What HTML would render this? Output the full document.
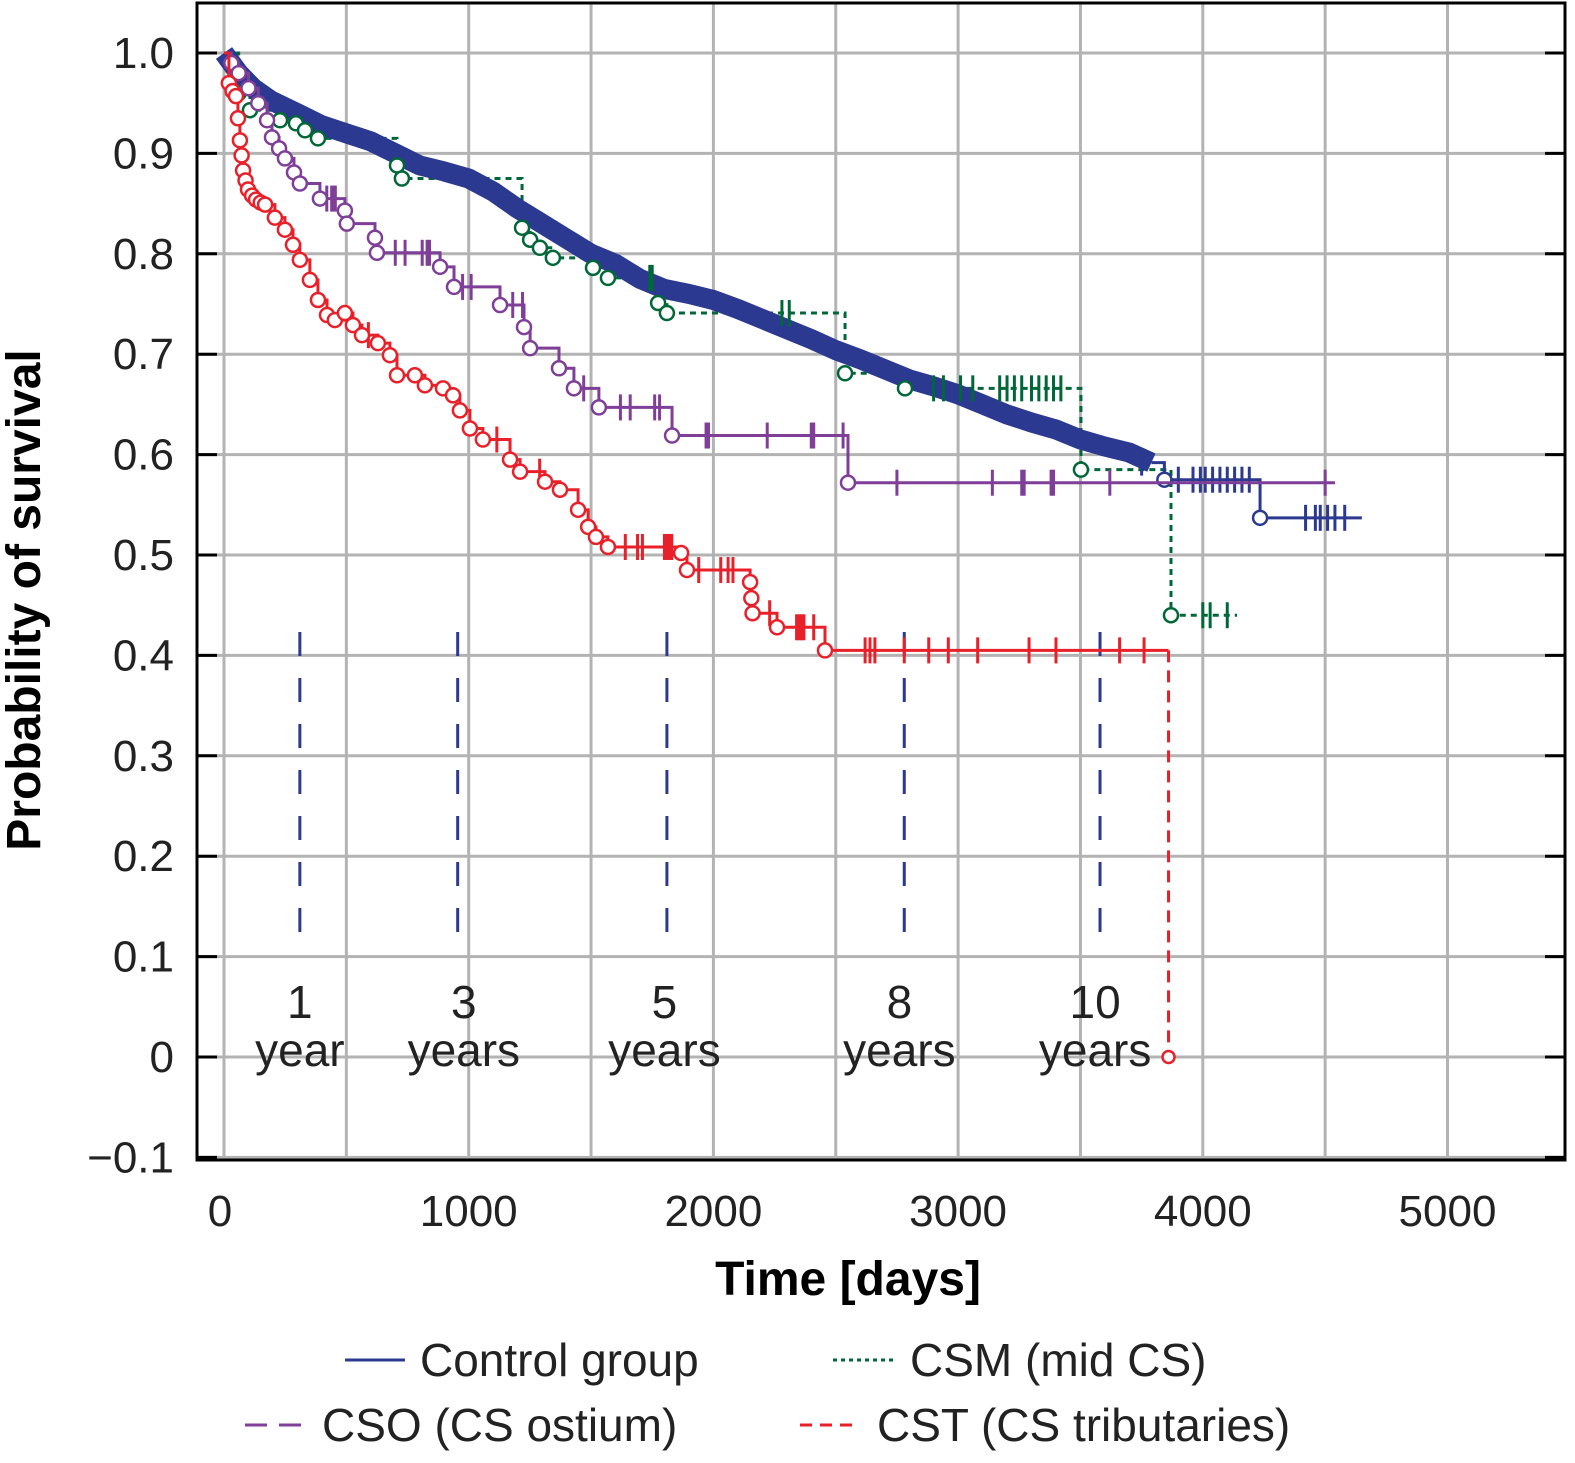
<!DOCTYPE html>
<html><head><meta charset="utf-8"><style>
body{margin:0;background:#fff;}
svg{display:block;font-family:"Liberation Sans",sans-serif;}
</style></head><body>
<svg id="chart" width="1575" height="1463" viewBox="0 0 1575 1463" xmlns="http://www.w3.org/2000/svg">
<g id="grid"></g>
<g id="annot"></g>
<g id="series"></g>
<rect x="197" y="3" width="1368" height="1157" fill="none" stroke="#000" stroke-width="3"/>
<g id="axes"></g>
<text x="848" y="1295" font-size="48" font-weight="bold" text-anchor="middle">Time [days]</text>
<text transform="translate(40,600) rotate(-90)" font-size="48" font-weight="bold" text-anchor="middle">Probability of survival</text>
<g font-size="46" fill="#222">
<g><line x1="345" y1="1360" x2="405" y2="1360" stroke="#2b3990" stroke-width="3"/><text x="420" y="1376">Control group</text></g>
<g><line x1="833" y1="1360" x2="895" y2="1360" stroke="#006838" stroke-width="3" stroke-dasharray="4,4"/><text x="910" y="1376">CSM (mid CS)</text></g>
<g><line x1="245" y1="1425" x2="305" y2="1425" stroke="#7f3f98" stroke-width="3" stroke-dasharray="22,12"/><text x="322" y="1441">CSO (CS ostium)</text></g>
<g><line x1="800" y1="1425" x2="860" y2="1425" stroke="#e8202a" stroke-width="3" stroke-dasharray="12,8"/><text x="877" y="1441">CST (CS tributaries)</text></g>
</g>
</svg>
<script>
const xTicks=[0,1000,2000,3000,4000,5000];
const yTicks=[-0.1,0,0.1,0.2,0.3,0.4,0.5,0.6,0.7,0.8,0.9,1.0];
const yTickLabels=["\u22120.1","0","0.1","0.2","0.3","0.4","0.5","0.6","0.7","0.8","0.9","1.0"];
const controlDays=[0,60,120,190,300,400,500,600,700,800,900,1000,1100,1200,1300,1400,1500,1600,1700,1800,1900,2000,2100,2200,2300,2400,2500,2600,2700,2800,2900,3000,3100,3200,3300,3400,3500,3600,3700,3790];
const controlSurv=[1,0.98,0.965,0.953,0.94,0.928,0.92,0.912,0.9,0.888,0.882,0.875,0.862,0.845,0.83,0.815,0.8,0.79,0.775,0.765,0.76,0.754,0.745,0.735,0.725,0.715,0.704,0.695,0.685,0.675,0.668,0.66,0.65,0.64,0.632,0.625,0.615,0.608,0.602,0.592];
const controlTailDays=[3790,3843,4234];
const controlTailSurv=[0.592,0.575,0.537];
const controlTailEnd=4650;
const controlCensor=[3750,3900,3960,3990,4010,4040,4070,4100,4130,4160,4190,4420,4460,4480,4510,4540,4580];
const cstDays=[0,20,35,49,57,65,72,78,88,98,115,131,150,168,208,249,282,310,351,384,421,453,494,527,564,629,678,707,780,821,895,936,964,1005,1058,1169,1210,1312,1373,1447,1488,1520,1569,1868,1892,2150,2155,2160,2260,2456];
const cstSurv=[1,0.97,0.962,0.957,0.935,0.913,0.898,0.883,0.873,0.864,0.858,0.854,0.851,0.849,0.836,0.824,0.809,0.794,0.774,0.754,0.739,0.734,0.741,0.729,0.719,0.711,0.699,0.679,0.679,0.669,0.666,0.659,0.644,0.626,0.615,0.595,0.583,0.573,0.565,0.545,0.528,0.518,0.508,0.502,0.485,0.473,0.457,0.442,0.428,0.405];
const cstEnd=3860;
const cstCensor=[590,1115,1290,1640,1690,1710,1800,1810,1820,1830,1940,2030,2060,2080,2230,2340,2350,2360,2370,2410,2620,2640,2660,2780,2880,2960,3080,3290,3400,3660,3760];
const csoDays=[0,30,60,100,140,176,196,225,249,286,310,392,494,502,617,625,883,940,1128,1226,1251,1369,1430,1532,1831,2550];
const csoSurv=[1,0.99,0.98,0.965,0.95,0.933,0.916,0.905,0.895,0.881,0.87,0.855,0.843,0.83,0.816,0.801,0.787,0.767,0.749,0.727,0.706,0.686,0.666,0.647,0.619,0.572];
const csoEnd=4540;
const csoCensor=[420,440,450,455,700,740,810,830,840,975,1010,1180,1220,1470,1620,1660,1760,1780,1970,1980,2220,2400,2410,2530,2750,3140,3260,3270,3380,3390,3620,4500];
const csmDays=[0,60,106,229,294,331,384,707,727,1218,1251,1291,1344,1508,1569,1774,1810,2538,2783,3502,3870];
const csmSurv=[1,0.96,0.943,0.933,0.93,0.923,0.915,0.888,0.875,0.826,0.814,0.806,0.796,0.786,0.776,0.751,0.741,0.681,0.666,0.585,0.44];
const csmEnd=4140;
const csmCensor=[1740,1750,2280,2310,2900,2940,3010,3060,3170,3200,3230,3260,3300,3330,3360,3390,3420,4000,4030,4100];
const annotDays=[310,955,1810,2780,3580];
const annotNum=["1","3","5","8","10"];
const annotUnit=["year","years","years","years","years"];
const annotTextDays=[310,980,1800,2760,3560];

const X=d=>224+d*0.2447, Y=s=>1057-s*1004;
const NS="http://www.w3.org/2000/svg";
function mk(tag,attrs,parent){const e=document.createElementNS(NS,tag);for(const k in attrs)e.setAttribute(k,attrs[k]);parent.appendChild(e);return e;}
const grid=document.getElementById('grid'),axes=document.getElementById('axes'),ser=document.getElementById('series'),annot=document.getElementById('annot');
for(let d=0;d<=5000;d+=500){const l=mk('line',{x1:X(d),x2:X(d),y1:3,y2:1160,stroke:'#b3b3b3','stroke-width':3},grid);

}
yTicks.forEach((v,i)=>{const l=mk('line',{x1:197,x2:1565,y1:Y(v),y2:Y(v),stroke:'#b3b3b3','stroke-width':3},grid);


const t1=mk('line',{x1:197,x2:217,y1:Y(v),y2:Y(v),stroke:'#000','stroke-width':3},axes);


const t2=mk('line',{x1:1545,x2:1565,y1:Y(v),y2:Y(v),stroke:'#000','stroke-width':3},axes);


const tx=mk('text',{x:174,y:Y(v)+15,'font-size':44,'text-anchor':'end',fill:'#222'},axes);tx.textContent=yTickLabels[i];

});
xTicks.forEach(v=>{const tx=mk('text',{x:X(v)-(v===0?4:0),y:1226,'font-size':44,'text-anchor':'middle',fill:'#222'},axes);tx.textContent=v;

});
annotDays.forEach((d,i)=>{const l=mk('line',{x1:X(d),x2:X(d),y1:632,y2:945,stroke:'#2b3990','stroke-width':3,'stroke-dasharray':'24,22'},annot);


const t=mk('text',{x:X(annotTextDays[i]),y:1018,'font-size':46,'text-anchor':'middle',fill:'#222'},annot);t.textContent=annotNum[i];


const u=mk('text',{x:X(annotTextDays[i]),y:1066,'font-size':46,'text-anchor':'middle',fill:'#222'},annot);u.textContent=annotUnit[i];

});
function stepPath(days,surv,end){let p='M'+X(days[0])+' '+Y(surv[0]);for(let i=1;i<days.length;i++)p+=' H'+X(days[i])+' V'+Y(surv[i]);if(end!=null)p+=' H'+X(end);return p;}
function linePath(days,surv){let p='M'+X(days[0])+' '+Y(surv[0]);for(let i=1;i<days.length;i++)p+=' L'+X(days[i])+' '+Y(surv[i]);return p;}
function valAt(days,surv,d){let v=surv[0];for(let i=0;i<days.length;i++)if(days[i]<=d)v=surv[i];return v;}
function censor(days,surv,cens,color,name){cens.forEach(d=>{const l=mk('line',{x1:X(d),x2:X(d),y1:Y(valAt(days,surv,d))-13,y2:Y(valAt(days,surv,d))+13,stroke:color,'stroke-width':3},ser);

});}
function circles(days,surv,color,name){for(let i=1;i<days.length;i++){const c=mk('circle',{cx:X(days[i]),cy:Y(surv[i]),r:7,fill:'#fff',stroke:color,'stroke-width':2.5},ser);

}}
// csm line (behind control band)
const gl=mk('path',{d:stepPath(csmDays,csmSurv,csmEnd),fill:'none',stroke:'#006838','stroke-width':3,'stroke-dasharray':'6,5'},ser);


// control
const cb=mk('path',{d:linePath(controlDays,controlSurv),fill:'none',stroke:'#2b3990','stroke-width':20,'stroke-linejoin':'bevel'},ser);


const ct=mk('path',{d:stepPath(controlTailDays,controlTailSurv,controlTailEnd),fill:'none',stroke:'#2b3990','stroke-width':3},ser);


censor(controlTailDays,controlTailSurv,controlCensor,'#2b3990','control-censor');
circles(controlTailDays,controlTailSurv,'#2b3990','control-event');
censor(csmDays,csmSurv,csmCensor,'#006838','csm-censor');
circles(csmDays,csmSurv,'#006838','csm-event');
// cso
const pl=mk('path',{d:stepPath(csoDays,csoSurv,csoEnd),fill:'none',stroke:'#7f3f98','stroke-width':3},ser);


censor(csoDays,csoSurv,csoCensor,'#7f3f98','cso-censor');
circles(csoDays,csoSurv,'#7f3f98','cso-event');
// cst
const rl=mk('path',{d:stepPath(cstDays,cstSurv,cstEnd),fill:'none',stroke:'#e8202a','stroke-width':3},ser);


const rd=mk('line',{x1:X(cstEnd),x2:X(cstEnd),y1:Y(cstSurv[cstSurv.length-1]),y2:Y(0),stroke:'#e8202a','stroke-width':3,'stroke-dasharray':'12,8'},ser);


censor(cstDays,cstSurv,cstCensor,'#e8202a','cst-censor');
circles(cstDays,cstSurv,'#e8202a','cst-event');
const rc=mk('circle',{cx:X(cstEnd),cy:Y(0),r:6,fill:'#fff',stroke:'#e8202a','stroke-width':2.5},ser);


</script>
</body></html>
